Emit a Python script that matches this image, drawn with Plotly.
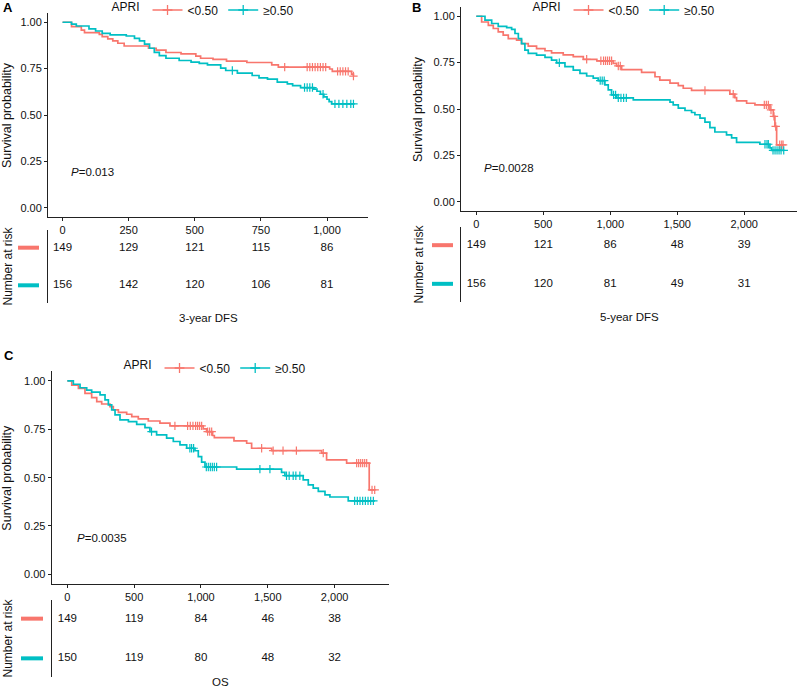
import plotly.graph_objects as go

# ---------------- data ----------------
RED = "#F8766D"
TEAL = "#00BFC4"
GROUPS = ["<0.50", "≥0.50"]

# Panel A: 3-year DFS
a_low_t = [0, 34, 71, 83, 139, 150, 171, 190, 209, 233, 325, 354, 391, 448, 504, 522, 569, 620, 697, 791, 816, 1010, 1020, 1093, 1100]
a_low_s = [1.0, 0.976, 0.958, 0.944, 0.935, 0.923, 0.91, 0.90, 0.887, 0.872, 0.86, 0.85, 0.837, 0.83, 0.817, 0.806, 0.80, 0.79, 0.783, 0.77, 0.758, 0.748, 0.735, 0.72, 0.71]
a_low_cens = [840, 925, 935, 945, 955, 965, 975, 985, 995, 1040, 1050, 1060, 1070, 1080, 1100]
a_high_t = [0, 34, 52, 100, 125, 150, 180, 241, 272, 291, 310, 329, 347, 366, 391, 441, 486, 517, 548, 598, 617, 661, 717, 743, 775, 812, 850, 870, 900, 950, 962, 975, 988, 1000, 1008, 1018, 1100]
a_high_s = [1.0, 0.99, 0.98, 0.964, 0.953, 0.94, 0.932, 0.926, 0.913, 0.90, 0.882, 0.86, 0.838, 0.82, 0.806, 0.794, 0.785, 0.778, 0.77, 0.753, 0.74, 0.726, 0.713, 0.70, 0.693, 0.677, 0.668, 0.658, 0.648, 0.64, 0.628, 0.612, 0.598, 0.585, 0.572, 0.56, 0.56]
a_high_cens = [642, 915, 925, 935, 945, 985, 1030, 1045, 1060, 1075, 1090, 1100]
a_ticks = [0, 250, 500, 750, 1000]
a_risk_low = [149, 129, 121, 115, 86]
a_risk_high = [156, 142, 120, 106, 81]

# Panel B: 5-year DFS
b_low_t = [0, 40, 90, 127, 164, 201, 239, 301, 338, 388, 450, 513, 562, 649, 724, 799, 900, 1022, 1047, 1085, 1234, 1334, 1370, 1446, 1508, 1545, 1607, 1893, 1930, 1943, 2018, 2080, 2192, 2217, 2229, 2242, 2290]
b_low_s = [1.0, 0.969, 0.951, 0.934, 0.916, 0.898, 0.88, 0.871, 0.853, 0.839, 0.826, 0.814, 0.803, 0.792, 0.782, 0.768, 0.76, 0.746, 0.732, 0.712, 0.698, 0.674, 0.656, 0.639, 0.626, 0.612, 0.60, 0.58, 0.561, 0.544, 0.531, 0.522, 0.495, 0.46, 0.406, 0.307, 0.307]
b_low_cens = [824, 930, 950, 965, 980, 995, 1010, 1060, 1075, 1707, 1918, 2150, 2165, 2180, 2200, 2222, 2235, 2265, 2280, 2290]
b_high_t = [0, 65, 115, 164, 227, 264, 289, 314, 338, 363, 388, 450, 513, 562, 600, 662, 724, 774, 824, 873, 910, 960, 985, 1010, 1048, 1172, 1446, 1470, 1508, 1558, 1607, 1632, 1670, 1707, 1744, 1781, 1868, 1906, 1943, 2117, 2192, 2204, 2295]
b_high_s = [1.0, 0.979, 0.961, 0.946, 0.939, 0.929, 0.907, 0.88, 0.853, 0.817, 0.80, 0.791, 0.778, 0.764, 0.749, 0.728, 0.71, 0.692, 0.678, 0.666, 0.653, 0.63, 0.603, 0.576, 0.56, 0.549, 0.537, 0.522, 0.505, 0.492, 0.481, 0.469, 0.451, 0.429, 0.40, 0.376, 0.361, 0.344, 0.32, 0.31, 0.29, 0.277, 0.277]
b_high_cens = [620, 925, 940, 955, 1025, 1040, 1060, 1080, 1100, 1120, 2155, 2170, 2180, 2215, 2230, 2245, 2260, 2275, 2295]
b_ticks = [0, 500, 1000, 1500, 2000]
b_risk_low = [149, 121, 86, 48, 39]
b_risk_high = [156, 120, 81, 49, 31]

# Panel C: OS
c_low_t = [0, 33, 83, 132, 182, 220, 257, 319, 344, 382, 444, 482, 531, 606, 693, 768, 1017, 1042, 1087, 1100, 1247, 1342, 1379, 1529, 1903, 1940, 2090, 2259, 2300]
c_low_s = [1.0, 0.979, 0.962, 0.936, 0.914, 0.893, 0.881, 0.867, 0.85, 0.838, 0.828, 0.816, 0.804, 0.793, 0.782, 0.768, 0.752, 0.738, 0.718, 0.707, 0.69, 0.678, 0.652, 0.64, 0.627, 0.592, 0.575, 0.437, 0.437]
c_low_cens = [805, 900, 920, 940, 960, 975, 990, 1005, 1050, 1065, 1080, 1454, 1540, 1614, 1714, 1915, 2165, 2180, 2195, 2210, 2225, 2240, 2280, 2300]
c_high_t = [0, 45, 95, 145, 182, 245, 282, 307, 332, 357, 394, 457, 519, 581, 618, 668, 743, 793, 843, 893, 955, 980, 1005, 1030, 1267, 1603, 1628, 1765, 1803, 1840, 1878, 1928, 1965, 2102, 2300]
c_high_s = [1.0, 0.983, 0.965, 0.953, 0.942, 0.928, 0.902, 0.876, 0.85, 0.825, 0.799, 0.79, 0.776, 0.759, 0.738, 0.721, 0.704, 0.687, 0.67, 0.652, 0.639, 0.609, 0.58, 0.555, 0.544, 0.527, 0.51, 0.489, 0.463, 0.446, 0.429, 0.411, 0.40, 0.38, 0.38]
c_high_cens = [630, 917, 930, 945, 1040, 1055, 1070, 1085, 1100, 1117, 1441, 1516, 1640, 1660, 1690, 1710, 1740, 2150, 2170, 2190, 2210, 2230, 2250, 2270, 2290]
c_ticks = [0, 500, 1000, 1500, 2000]
c_risk_low = [149, 119, 84, 46, 38]
c_risk_high = [150, 119, 80, 48, 32]

y_ticks = [0, 0.25, 0.5, 0.75, 1.0]

# ---------------- helpers ----------------
W, H = 798, 688
FONT = "Liberation Sans, Arial, sans-serif"
FS = 11
TXT = "#111111"


def fx(px):
    return px / W


def fy(py):
    return 1 - py / H


def step_at(times, surv, t):
    v = surv[0]
    for ti, si in zip(times, surv):
        if ti <= t:
            v = si
        else:
            break
    return v


fig = go.Figure()

panels = [
    dict(lbl="A", xa="x", ya="y", txa="x2", tya="y2",
         low=(a_low_t, a_low_s, a_low_cens), high=(a_high_t, a_high_s, a_high_cens),
         ticks=a_ticks, rl=a_risk_low, rh=a_risk_high, legend="legend",
         xpx=(48, 368), ypx=(13, 217), tpx=(230, 303), xr=[-55, 1155],
         title="3-year DFS", title_py=318, pval="0.013", pval_xy=(25, 0.19),
         lbl_xy=(2, 7), ytitle_x=7, nar_x=7, dash=(18, 39), leg_xy=(204, 10)),
    dict(lbl="B", xa="x3", ya="y3", txa="x4", tya="y4",
         low=(b_low_t, b_low_s, b_low_cens), high=(b_high_t, b_high_s, b_high_cens),
         ticks=b_ticks, rl=b_risk_low, rh=b_risk_high, legend="legend2",
         xpx=(461, 797), ypx=(7, 211), tpx=(227, 302), xr=[-114, 2394],
         title="5-year DFS", title_py=317, pval="0.0028", pval_xy=(40, 0.18),
         lbl_xy=(411, 7), ytitle_x=418, nar_x=418, dash=(432, 453), leg_xy=(625, 10)),
    dict(lbl="C", xa="x5", ya="y5", txa="x6", tya="y6",
         low=(c_low_t, c_low_s, c_low_cens), high=(c_high_t, c_high_s, c_high_cens),
         ticks=c_ticks, rl=c_risk_low, rh=c_risk_high, legend="legend3",
         xpx=(51.7, 389), ypx=(371.3, 584), tpx=(600, 677), xr=[-117, 2407],
         title="OS", title_py=682, pval="0.0035", pval_xy=(58, 0.19),
         lbl_xy=(3, 355), ytitle_x=7, nar_x=7, dash=(21, 43), leg_xy=(216, 368)),
]

layout_axes = {}
annotations = []
shapes = []


def axname(a):
    return a.replace("x", "xaxis").replace("y", "yaxis")


for p in panels:
    for (t, s, cens), color, name in [(p["low"], RED, GROUPS[0]), (p["high"], TEAL, GROUPS[1])]:
        fig.add_trace(go.Scatter(x=t, y=s, mode="lines", line=dict(color=color, width=1.7, shape="hv"),
                                 xaxis=p["xa"], yaxis=p["ya"], showlegend=False, hoverinfo="skip"))
        fig.add_trace(go.Scatter(x=cens, y=[step_at(t, s, c) for c in cens], mode="markers",
                                 marker=dict(symbol="cross-thin", size=6, line=dict(color=color, width=1.2)),
                                 xaxis=p["xa"], yaxis=p["ya"], showlegend=False, hoverinfo="skip"))
        fig.add_trace(go.Scatter(x=[None], y=[None], mode="lines+markers", name=name,
                                 line=dict(color=color, width=1.7),
                                 marker=dict(symbol="cross-thin", size=7, line=dict(color=color, width=1.3)),
                                 xaxis=p["xa"], yaxis=p["ya"], legend=p["legend"], showlegend=True))
    for vals, yv in [(p["rl"], 2), (p["rh"], 1)]:
        fig.add_trace(go.Scatter(x=p["ticks"], y=[yv] * len(vals), mode="text",
                                 text=[str(v) for v in vals],
                                 textfont=dict(family=FONT, size=11.5, color=TXT),
                                 xaxis=p["txa"], yaxis=p["tya"], showlegend=False, hoverinfo="skip"))

    xdom = [fx(p["xpx"][0]), fx(p["xpx"][1])]
    axis_common = dict(showgrid=False, zeroline=False, linecolor="#222222", linewidth=1,
                       tickcolor="#222222", ticklen=3, tickwidth=1,
                       tickfont=dict(family=FONT, size=FS, color=TXT))
    layout_axes[axname(p["xa"])] = dict(domain=xdom, range=p["xr"], anchor=p["ya"], showline=True,
                                        ticks="outside", tickvals=p["ticks"], tickformat=",d",
                                        **axis_common)
    layout_axes[axname(p["ya"])] = dict(domain=[fy(p["ypx"][1]), fy(p["ypx"][0])], range=[-0.05, 1.05],
                                        anchor=p["xa"], showline=True, ticks="outside",
                                        tickvals=y_ticks, tickformat=".2f", **axis_common)
    layout_axes[axname(p["txa"])] = dict(domain=xdom, matches=p["xa"], anchor=p["tya"], showline=False,
                                         showticklabels=False, ticks="", showgrid=False, zeroline=False)
    layout_axes[axname(p["tya"])] = dict(domain=[fy(p["tpx"][1]), fy(p["tpx"][0])], range=[0.53, 2.47],
                                         anchor=p["txa"], showline=True, linecolor="#222222", linewidth=1,
                                         showticklabels=False, ticks="", showgrid=False, zeroline=False)

    for yv, color in [(2, RED), (1, TEAL)]:
        shapes.append(dict(type="line", xref="paper", yref=p["tya"], x0=fx(p["dash"][0]), x1=fx(p["dash"][1]),
                           y0=yv, y1=yv, line=dict(color=color, width=4)))

    annotations.append(dict(text="<b>%s</b>" % p["lbl"], xref="paper", yref="paper",
                            x=fx(p["lbl_xy"][0]), y=fy(p["lbl_xy"][1]), xanchor="left", yanchor="middle",
                            showarrow=False, borderpad=0, font=dict(family=FONT, size=13, color="black")))
    ymid = (p["ypx"][0] + p["ypx"][1]) / 2
    annotations.append(dict(text="Survival probability", xref="paper", yref="paper", textangle=-90,
                            x=fx(p["ytitle_x"]), y=fy(ymid), xanchor="center", yanchor="middle",
                            showarrow=False, borderpad=0, font=dict(family=FONT, size=12.5, color=TXT)))
    tmid = (p["tpx"][0] + p["tpx"][1]) / 2
    annotations.append(dict(text="Number at risk", xref="paper", yref="paper", textangle=-90,
                            x=fx(p["nar_x"]), y=fy(tmid), xanchor="center", yanchor="middle",
                            showarrow=False, borderpad=0, font=dict(family=FONT, size=12, color=TXT)))
    annotations.append(dict(text=p["title"], xref="paper", yref="paper",
                            x=(xdom[0] + xdom[1]) / 2, y=fy(p["title_py"]), xanchor="center", yanchor="middle",
                            showarrow=False, borderpad=0, font=dict(family=FONT, size=11.5, color=TXT)))
    annotations.append(dict(text="<i>P</i>=%s" % p["pval"], xref=p["xa"], yref=p["ya"],
                            x=p["pval_xy"][0], y=p["pval_xy"][1], xanchor="left", yanchor="middle",
                            showarrow=False, font=dict(family=FONT, size=11.5, color=TXT)))

legend_common = dict(orientation="h", xanchor="center", yanchor="middle", bgcolor="rgba(0,0,0,0)",
                     font=dict(family=FONT, size=12, color=TXT),
                     title=dict(text="APRI", side="left", font=dict(family=FONT, size=12, color=TXT)),
                     itemclick=False, itemdoubleclick=False)
legends = {}
for p in panels:
    legends[p["legend"]] = dict(x=fx(p["leg_xy"][0]), y=fy(p["leg_xy"][1]), **legend_common)

fig.update_layout(
    width=W, height=H, autosize=False,
    margin=dict(l=0, r=0, t=0, b=0, autoexpand=False),
    paper_bgcolor="white", plot_bgcolor="white",
    font=dict(family=FONT, size=FS, color=TXT),
    annotations=annotations, shapes=shapes,
    **layout_axes, **legends,
)

fig.write_html("out.html", config={"displayModeBar": False},
               post_script="document.body.style.margin='0';document.body.style.overflow='hidden';")
